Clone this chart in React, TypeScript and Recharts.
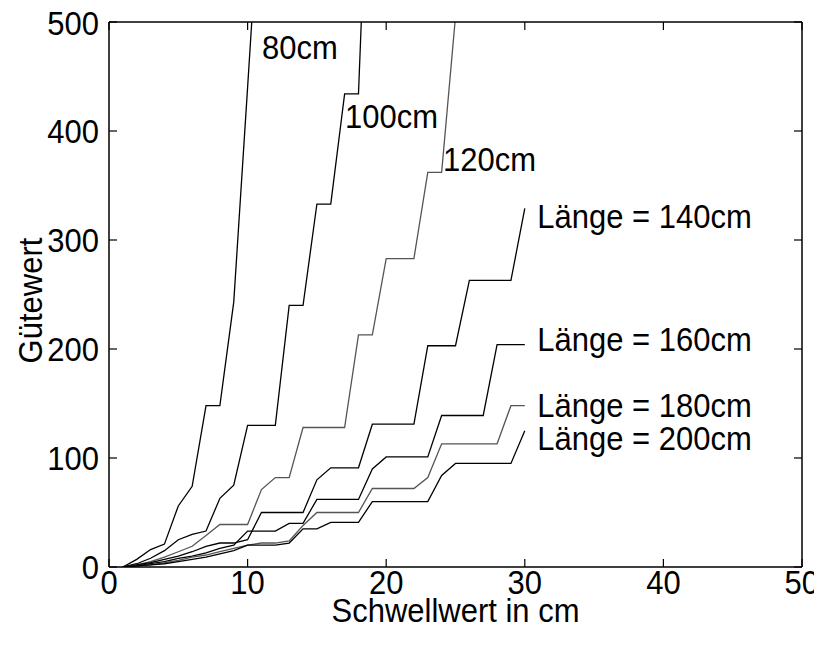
import React from 'react';
import { LineChart, Line, XAxis, YAxis, ReferenceDot } from 'recharts';

const FONT = '"Liberation Sans", Arial, sans-serif';

// Schwellwert (cm)
const thresholds = [1, 2, 3, 4, 5, 6, 7, 8, 9, 10, 11, 12, 13, 14, 15, 16, 17, 18, 19, 20, 21, 22, 23, 24, 25, 26, 27, 28, 29, 30];

// Gütewert per Länge
const len80 = [0, 7, 16, 21, 56, 74, 148, 148, 243, 440, 640];
const len100 = [0, 3, 8, 15, 25, 30, 33, 63, 75, 130, 130, 130, 240, 240, 333, 333, 434, 434, 760];
const len120 = [0, 2, 5, 9, 14, 19, 29, 39, 39, 39, 71, 82, 82, 128, 128, 128, 128, 213, 213, 283, 283, 283, 362, 362, 505];
const len140 = [0, 2, 4, 7, 10, 14, 19, 22, 22, 25, 50, 50, 50, 50, 80, 91, 91, 91, 131, 131, 131, 131, 203, 203, 203, 263, 263, 263, 263, 329];
const len160 = [0, 1, 3, 5, 8, 10, 13, 17, 20, 33, 33, 33, 40, 40, 62, 62, 62, 62, 90, 101, 101, 101, 101, 139, 139, 139, 139, 204, 204, 204];
const len180 = [0, 1, 2, 4, 6, 9, 11, 14, 17, 20, 22, 22, 24, 38, 50, 50, 50, 50, 72, 72, 72, 72, 82, 113, 113, 113, 113, 113, 148, 148];
const len200 = [0, 1, 2, 3, 5, 7, 9, 12, 15, 20, 20, 20, 22, 35, 35, 41, 41, 41, 60, 60, 60, 60, 60, 84, 95, 95, 95, 95, 95, 125];

const xTicks = [0, 10, 20, 30, 40, 50];
const yTicks = [0, 100, 200, 300, 400, 500];

const curveLabels = ['80cm', '100cm', '120cm', 'Länge = 140cm', 'Länge = 160cm', 'Länge = 180cm', 'Länge = 200cm'];
const labelX = [11.04, 17.03, 24.1, 30.9, 30.9, 30.9, 30.9];
const labelY = [477, 413, 374, 322, 209, 148, 118];

const series = [
  { key: 'l80', values: len80, color: '#000000' },
  { key: 'l100', values: len100, color: '#000000' },
  { key: 'l120', values: len120, color: '#555555' },
  { key: 'l140', values: len140, color: '#000000' },
  { key: 'l160', values: len160, color: '#000000' },
  { key: 'l180', values: len180, color: '#555555' },
  { key: 'l200', values: len200, color: '#000000' },
];

const data = thresholds.map((x, i) => {
  const row: Record<string, number | undefined> = { x };
  series.forEach((s) => {
    row[s.key] = s.values[i];
  });
  return row;
});

const FS = 31;
const SY = 1.1;
const TICK_LEN = 8;

function StretchText({ x, y, anchor, children }: { x: number; y: number; anchor: string; children: any }) {
  return (
    <text
      transform={`translate(${x},${y}) scale(1,${SY})`}
      x={0}
      y={0}
      textAnchor={anchor}
      dominantBaseline="central"
      fontSize={FS}
      fontFamily={FONT}
      fill="#000"
    >
      {children}
    </text>
  );
}

const BottomTick = (p: any) => {
  const v = p.payload.value;
  const last = Number(v) === xTicks[xTicks.length - 1];
  return (
    <g>
      <line x1={p.x} x2={p.x} y1={p.y} y2={p.y - TICK_LEN} stroke="#000" strokeWidth={1.2} />
      <StretchText x={last ? p.x + 17 : p.x} y={p.y + 15} anchor={last ? 'end' : 'middle'}>
        {v}
      </StretchText>
    </g>
  );
};

const TopTick = (p: any) => (
  <line x1={p.x} x2={p.x} y1={p.y} y2={p.y + TICK_LEN} stroke="#000" strokeWidth={1.2} />
);

const LeftTick = (p: any) => (
  <g>
    <line x1={p.x} x2={p.x + TICK_LEN} y1={p.y} y2={p.y} stroke="#000" strokeWidth={1.2} />
    <StretchText x={p.x - 10} y={Number(p.payload.value) === 500 ? p.y + 1 : p.y} anchor="end">
      {p.payload.value}
    </StretchText>
  </g>
);

const RightTick = (p: any) => (
  <line x1={p.x} x2={p.x - TICK_LEN} y1={p.y} y2={p.y} stroke="#000" strokeWidth={1.2} />
);

export default function App() {
  return (
    <LineChart
      width={814}
      height={629}
      data={data}
      margin={{ top: 13, right: 19, bottom: 0, left: 0 }}
      style={{ fontFamily: FONT }}
    >
      <XAxis
        xAxisId="b"
        dataKey="x"
        type="number"
        domain={[0, 50]}
        ticks={xTicks}
        height={70}
        tickSize={0}
        tickMargin={0}
        tick={BottomTick}
        tickLine={false}
        axisLine={{ stroke: '#000', strokeWidth: 1.5 }}
        label={{
          content: (p: any) => (
            <StretchText x={p.viewBox.x + p.viewBox.width / 2} y={p.viewBox.y + 43} anchor="middle">
              Schwellwert in cm
            </StretchText>
          ),
        }}
      />
      <XAxis
        xAxisId="t"
        dataKey="x"
        type="number"
        orientation="top"
        domain={[0, 50]}
        ticks={xTicks}
        height={1}
        tickSize={0}
        tickMargin={0}
        tick={TopTick}
        tickLine={false}
        axisLine={{ stroke: '#000', strokeWidth: 1.5 }}
      />
      <YAxis
        yAxisId="l"
        type="number"
        domain={[0, 500]}
        ticks={yTicks}
        allowDataOverflow
        width={101}
        tickSize={0}
        tickMargin={0}
        tick={LeftTick}
        tickLine={false}
        axisLine={{ stroke: '#000', strokeWidth: 1.5 }}
        label={{
          content: (p: any) => {
            const cx = p.viewBox.x + 22;
            const cy = p.viewBox.y + p.viewBox.height / 2 + 6;
            return (
              <text
                transform={`translate(${cx},${cy}) rotate(-90) scale(1,${SY})`}
                x={0}
                y={0}
                textAnchor="middle"
                dominantBaseline="central"
                fontSize={FS}
                fontFamily={FONT}
                fill="#000"
              >
                Gütewert
              </text>
            );
          },
        }}
      />
      <YAxis
        yAxisId="r"
        type="number"
        orientation="right"
        domain={[0, 500]}
        ticks={yTicks}
        allowDataOverflow
        width={1}
        tickSize={0}
        tickMargin={0}
        tick={RightTick}
        tickLine={false}
        axisLine={{ stroke: '#000', strokeWidth: 1.5 }}
      />
      {series.map((s) => (
        <Line
          key={s.key}
          xAxisId="b"
          yAxisId="l"
          type="linear"
          dataKey={s.key}
          stroke={s.color}
          strokeWidth={1.3}
          dot={false}
          activeDot={false}
          isAnimationActive={false}
        />
      ))}
      {curveLabels.map((t, i) => (
        <ReferenceDot
          key={t}
          xAxisId="b"
          yAxisId="l"
          x={labelX[i]}
          y={labelY[i]}
          r={0}
          fill="none"
          stroke="none"
          label={{
            content: (p: any) => (
              <StretchText x={p.viewBox.x} y={p.viewBox.y} anchor="start">
                {t}
              </StretchText>
            ),
          }}
        />
      ))}
    </LineChart>
  );
}
